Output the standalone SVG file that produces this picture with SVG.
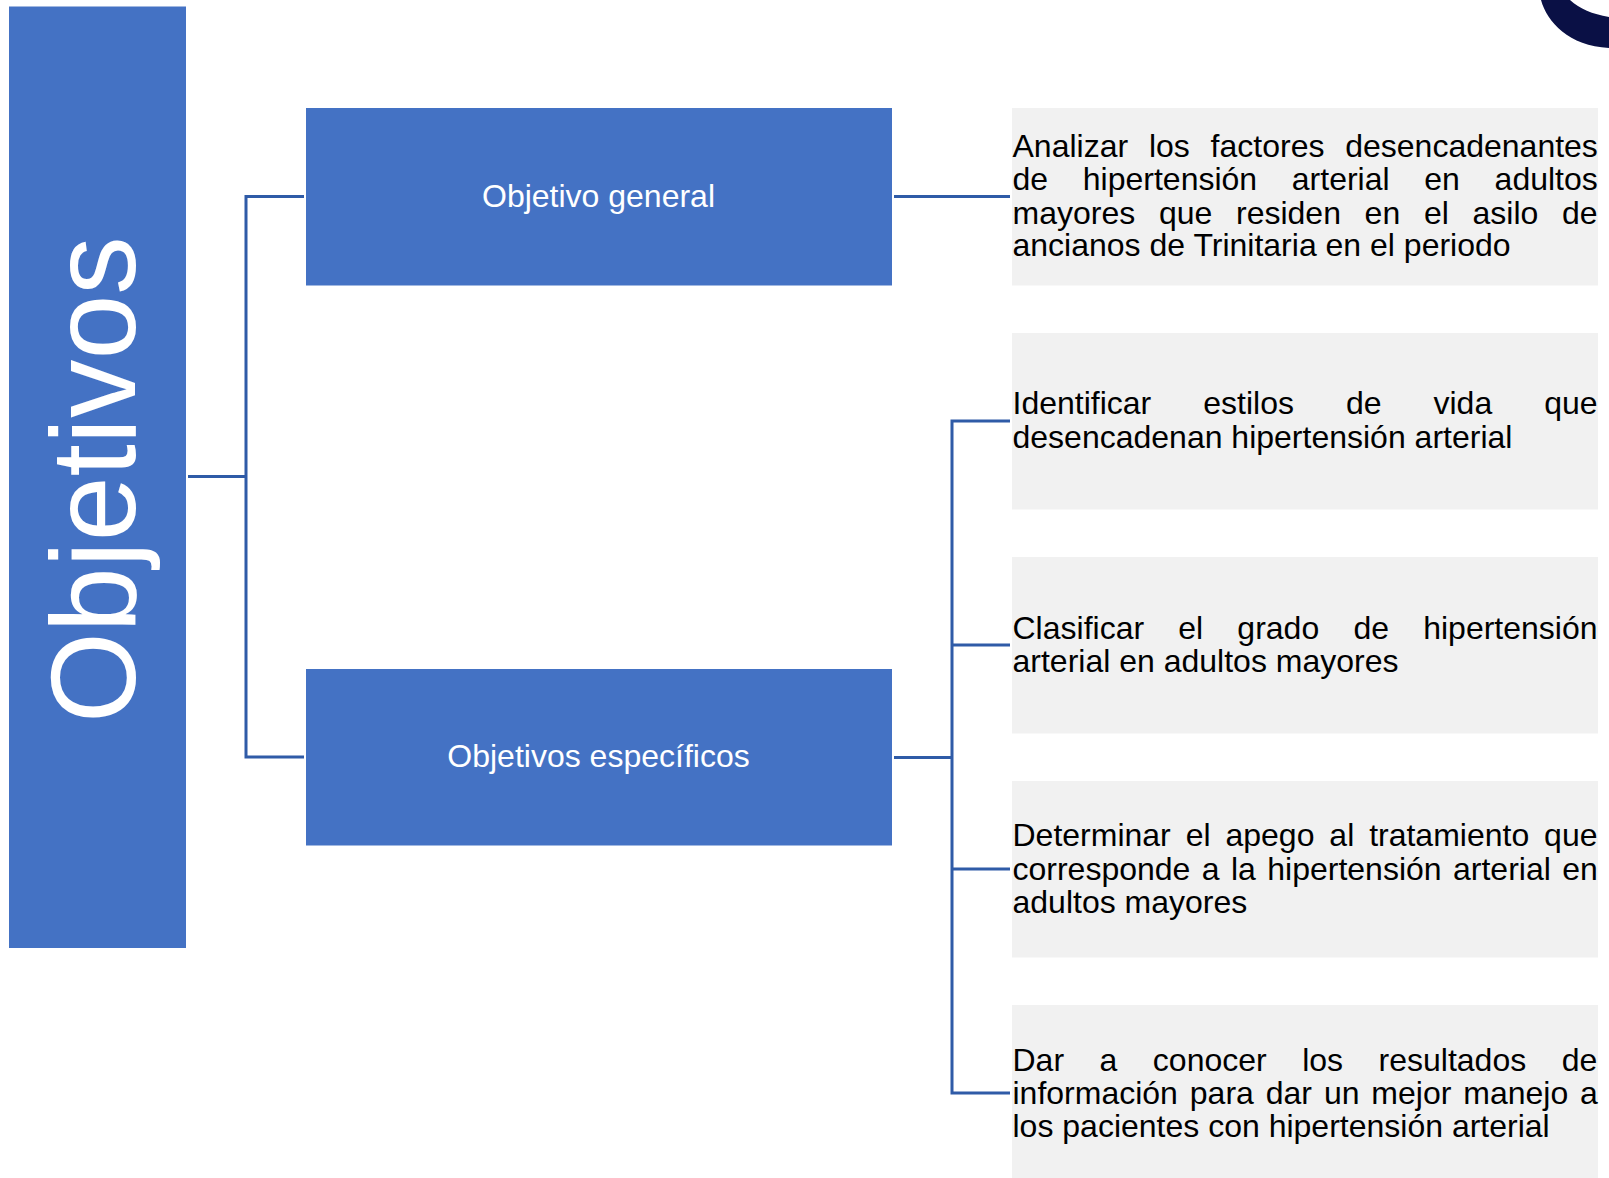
<svg xmlns="http://www.w3.org/2000/svg" width="1609" height="1178" viewBox="0 0 1609 1178">
<style>
.b{fill:#4472C4}
.g{fill:#F1F1F1}
.t{font-family:"Liberation Sans",Arial,sans-serif;font-size:32px;fill:#000}
.w{font-family:"Liberation Sans",Arial,sans-serif;font-size:32px;fill:#fff;text-anchor:middle}
.c{fill:none;stroke:#2F5BA7;stroke-width:3}
</style>
<rect width="1609" height="1178" fill="#fff"/>
<path d="M1541 0C1547 22 1569 46 1609 48V17C1592 14 1580 9 1570 0Z" fill="#0A1045"/>
<g id="connectors">
<path class="c" d="M188 476.500H246M304 196.500H246V757H304"/>
<path class="c" d="M894 196.500H1010"/>
<path class="c" d="M894 757.500H952M1010 421H952V1093H1010M952 645H1010M952 869H1010"/>
</g>
<g id="n-objetivos"><rect class="b" x="9" y="6.500" width="177" height="941.500"/>
<text transform="translate(134.500 723) rotate(-90) scale(.965 1)" font-family="Liberation Sans, Arial, sans-serif" font-size="121" fill="#fff">Objetivos</text></g>
<g id="n-general"><rect class="b" x="306" y="108" width="586" height="177.500"/><text class="w" x="598.500" y="207">Objetivo general</text></g>
<g id="n-especificos"><rect class="b" x="306" y="669" width="586" height="176.500"/><text class="w" x="598.500" y="767">Objetivos específicos</text></g>
<g id="n-d1"><rect class="g" x="1012" y="108" width="586" height="177.500"/>
<text class="t" x="1012.500" y="157" word-spacing="11.9">Analizar los factores desencadenantes</text>
<text class="t" x="1012.500" y="190" word-spacing="25.8">de hipertensión arterial en adultos</text>
<text class="t" x="1012.500" y="224" word-spacing="14.8">mayores que residen en el asilo de</text>
<text class="t" x="1012.500" y="256">ancianos de Trinitaria en el periodo</text></g>
<g id="n-d2"><rect class="g" x="1012" y="333" width="586" height="176.500"/>
<text class="t" x="1012.500" y="414" word-spacing="43.1">Identificar estilos de vida que</text>
<text class="t" x="1012.500" y="448">desencadenan hipertensión arterial</text></g>
<g id="n-d3"><rect class="g" x="1012" y="557" width="586" height="176.500"/>
<text class="t" x="1012.500" y="639" word-spacing="25.3">Clasificar el grado de hipertensión</text>
<text class="t" x="1012.500" y="672">arterial en adultos mayores</text></g>
<g id="n-d4"><rect class="g" x="1012" y="781" width="586" height="176.500"/>
<text class="t" x="1012.500" y="846" word-spacing="6">Determinar el apego al tratamiento que</text>
<text class="t" x="1012.500" y="880" word-spacing="2.5">corresponde a la hipertensión arterial en</text>
<text class="t" x="1012.500" y="913">adultos mayores</text></g>
<g id="n-d5"><rect class="g" x="1012" y="1005" width="586" height="173"/>
<text class="t" x="1012.500" y="1071" word-spacing="26.6">Dar a conocer los resultados de</text>
<text class="t" x="1012.500" y="1104" word-spacing="3">información para dar un mejor manejo a</text>
<text class="t" x="1012.500" y="1137">los pacientes con hipertensión arterial</text></g>
</svg>
